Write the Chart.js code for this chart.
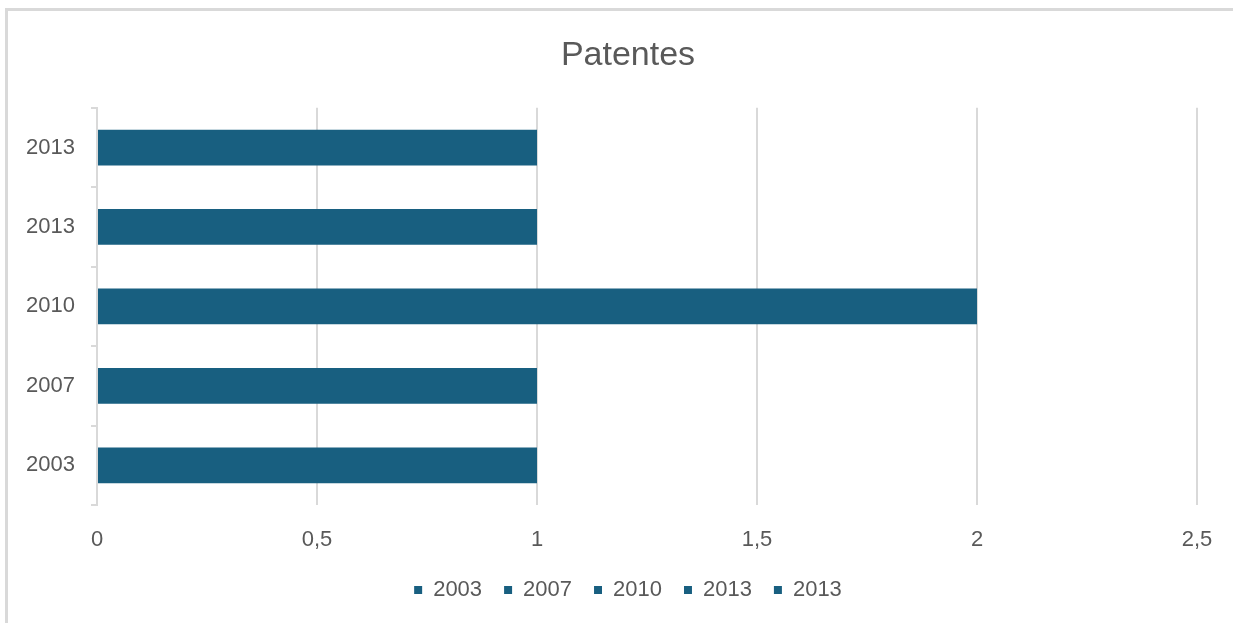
<!DOCTYPE html>
<html>
<head>
<meta charset="utf-8">
<script src="https://cdn.jsdelivr.net/npm/chart.js@4"></script>
<style>
  body { margin: 0; background: #fff; overflow: hidden; }
  #frame { position: absolute; left: 5px; top: 8px; width: 1280px; height: 660px; border: 3px solid #d9d9d9; }
  #wrap { position: absolute; left: 0; top: 0; width: 1256px; height: 623px; }
</style>
</head>
<body>
<div id="frame"></div>
<div id="wrap"><canvas id="myChart"></canvas></div>
<script>
const labels = ['2003', '2007', '2010', '2013', '2013'];
const values = [1, 1, 2, 1, 1];
const xTicks = [0, 0.5, 1, 1.5, 2, 2.5];

const barColor = '#185f80';
const textColor = '#595959';
const gridColor = '#d9d9d9';
const font = "'Liberation Sans', Arial, sans-serif";

const data = {
  labels: labels,
  datasets: [{
    label: 'Patentes',
    data: values,
    xAxisID: 'x',
    yAxisID: 'y',
    backgroundColor: barColor,
    barPercentage: 0.9,
    categoryPercentage: 0.5,
  }]
};

const config = {
  type: 'bar',
  data: data,
  options: {
    indexAxis: 'y',
    responsive: true,
    maintainAspectRatio: false,
    animation: false,
    layout: { padding: { top: 22, right: 0, bottom: 12, left: 0 } },
    plugins: {
      title: {
        display: true,
        text: 'Patentes',
        color: textColor,
        font: { family: font, size: 34, weight: 'normal' },
        padding: { top: 13, bottom: 32 }
      },
      legend: {
        position: 'bottom',
        labels: {
          color: textColor,
          font: { family: font, size: 22 },
          boxWidth: 8,
          boxHeight: 8,
          padding: 22,
          generateLabels: () => labels.map((l, i) => ({
            text: l,
            fillStyle: barColor,
            strokeStyle: barColor,
            fontColor: textColor,
            lineWidth: 0,
            index: i
          }))
        },
        onClick: () => {}
      },
      tooltip: { enabled: false }
    },
    scales: {
      x: {
        min: 0,
        max: 2.5,
        afterBuildTicks: (scale) => { scale.ticks = xTicks.map(v => ({ value: v })); },
        afterFit: (scale) => { scale.height = 52; },
        ticks: {
          color: textColor,
          font: { family: font, size: 22 },
          padding: 22,
          callback: (v) => String(v).replace('.', ',')
        },
        grid: { color: gridColor, lineWidth: 2, drawTicks: false },
        border: { display: false }
      },
      y: {
        reverse: true,
        afterFit: (scale) => { scale.width = 97; },
        ticks: {
          color: textColor,
          font: { family: font, size: 22 },
          padding: 16
        },
        grid: { drawOnChartArea: false, drawTicks: true, tickLength: 6, color: gridColor, lineWidth: 2, offset: true },
        border: { display: true, color: gridColor, width: 2 }
      },
      // empty right margin so the title and legend sit centred like the original
      pad: {
        type: 'linear',
        axis: 'y',
        position: 'right',
        afterFit: (scale) => { scale.width = 59; },
        ticks: { display: false },
        grid: { display: false },
        border: { display: false }
      }
    }
  }
};

const myChart = new Chart(
  document.getElementById('myChart'),
  config
);
</script>
</body>
</html>
